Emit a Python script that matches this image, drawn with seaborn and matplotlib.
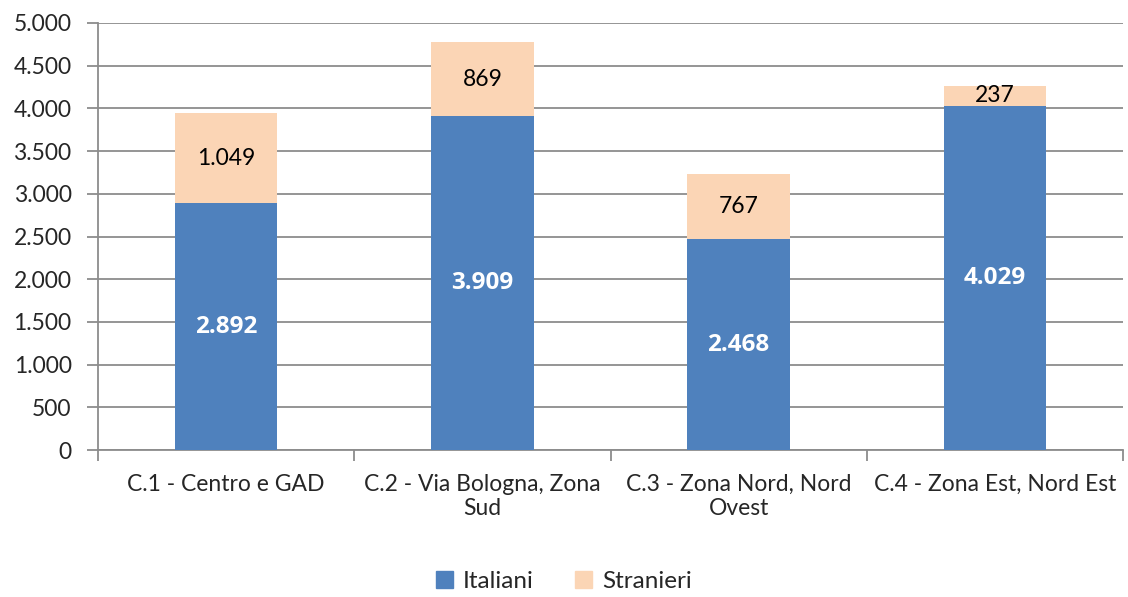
import numpy as np
import pandas as pd
import seaborn as sns
import matplotlib.pyplot as plt
from matplotlib.patches import Patch
from matplotlib.ticker import FuncFormatter, FixedLocator

categories = ['C.1 - Centro e GAD', 'C.2 - Via Bologna, Zona\nSud',
              'C.3 - Zona Nord, Nord\nOvest', 'C.4 - Zona Est, Nord Est']
italiani = [2892, 3909, 2468, 4029]
stranieri = [1049, 869, 767, 237]

BLUE = '#4F81BD'
PEACH = '#FBD5B5'
GRID = '#8C8C8C'

sns.set_theme(style='white')
plt.rcParams['font.family'] = ['Lato', 'DejaVu Sans']

df = pd.DataFrame({'zona': categories, 'Italiani': italiani, 'Stranieri': stranieri})
df['totale'] = df['Italiani'] + df['Stranieri']

fig = plt.figure(figsize=(11.28, 5.97), dpi=100)
ax = fig.add_axes([0.0869, 0.2462, 0.9087, 0.7153])

sns.barplot(data=df, x='zona', y='totale', color=PEACH, width=0.4, saturation=1,
            linewidth=0, ax=ax, zorder=3)
sns.barplot(data=df, x='zona', y='Italiani', color=BLUE, width=0.4, saturation=1,
            linewidth=0, ax=ax, zorder=3)

fmt = lambda v: f'{int(v):,}'.replace(',', '.')
for i, (it, st) in enumerate(zip(italiani, stranieri)):
    ax.text(i, it / 2, fmt(it), ha='center', va='center', color='white',
            fontsize=17.5, fontweight='bold', family=['Open Sans', 'DejaVu Sans'], zorder=4)
    ax.text(i, it + st / 2, fmt(st), ha='center', va='center', color='black',
            fontsize=16.5, zorder=4)

ax.set_ylim(0, 5000)
ax.set_xlim(-0.5, 3.5)
ax.set_yticks(np.arange(0, 5001, 500))
ax.yaxis.set_major_formatter(FuncFormatter(lambda v, p: fmt(v)))
ax.yaxis.grid(True, color=GRID, linewidth=1.3, zorder=0)
ax.set_axisbelow(True)

ax.xaxis.set_major_locator(FixedLocator([-0.5, 0.5, 1.5, 2.5, 3.5]))
ax.set_xticklabels([])
ax.xaxis.set_minor_locator(FixedLocator([0, 1, 2, 3]))
ax.set_xticklabels(categories, minor=True)
ax.tick_params(axis='x', which='major', length=8, width=1.3, color=GRID, direction='out', bottom=True)
ax.tick_params(axis='x', which='minor', length=0, labelsize=16.5, pad=17)
ax.tick_params(axis='y', length=8, width=1.3, color=GRID, direction='out', left=True,
               labelsize=16.5, pad=11)
ax.set_xlabel('')
ax.set_ylabel('')

for s in ['top', 'right']:
    ax.spines[s].set_visible(False)
for s in ['left', 'bottom']:
    ax.spines[s].set_color(GRID)
    ax.spines[s].set_linewidth(1.3)

handles = [Patch(color=BLUE, label='Italiani'), Patch(color=PEACH, label='Stranieri')]
fig.legend(handles=handles, loc='center', bbox_to_anchor=(0.5, 0.026), ncol=2, frameon=False,
           fontsize=17.5, handlelength=0.7, handleheight=0.7, handletextpad=0.4, columnspacing=1.7)

fig.savefig('out.png', dpi=100)
